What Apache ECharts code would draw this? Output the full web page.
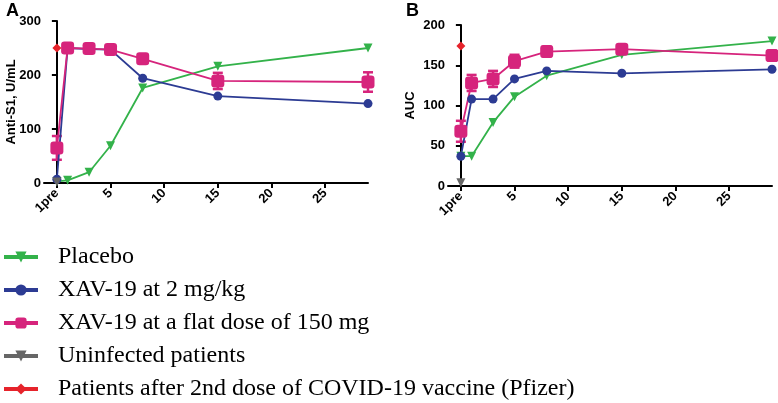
<!DOCTYPE html>
<html>
<head>
<meta charset="utf-8">
<script src="https://cdn.jsdelivr.net/npm/echarts@6/dist/echarts.min.js"></script>
<style>
  html, body { margin: 0; padding: 0; background: #fff; }
  #chart { width: 778px; height: 403px; }
</style>
</head>
<body>
<div id="chart"></div>
<script>
  // days after infusion, 0 = pre
  const days = [0, 1, 3, 5, 8, 15, 29]
  const xTicks = [0, 5, 10, 15, 20, 25]

  // panel A: anti-S1 U/mL
  const placeboA = [3, 5, 20, 69, 176, 216, 250]
  const xav2A = [7, 250, 248, 247, 194, 161, 147]
  const xav150A = [65, 250, 249, 247, 230, 189, 187]
  const xav150ErrA = [22, 3, 3, 3, 6, 15, 18]
  const uninfectedA = [2]
  const vaccineA = [250]

  // panel B: AUC
  const placeboB = [37, 37, 79, 111, 137, 163, 180]
  const xav2B = [37, 108, 108, 133, 143, 140, 145]
  const xav150B = [68, 128, 133, 155, 167, 170, 162]
  const xav150ErrB = [13, 10, 10, 8, 6, 5, 6]
  const uninfectedB = [4]
  const vaccineB = [174]

  const names = ['Placebo', 'XAV-19 at 2 mg/kg', 'XAV-19 at a flat dose of 150 mg',
    'Uninfected patients', 'Patients after 2nd dose of COVID-19 vaccine (Pfizer)']
  const colors = ['#33b24a', '#2c3b93', '#d6247c', '#666666', '#e6232b']

  const chart = echarts.init(document.getElementById('chart'))

  function pairs (ys) {
    return ys.map((y, i) => [days[i], y])
  }

  function errData (ys, errs) {
    return ys.map((y, i) => [days[i], y - errs[i], y + errs[i]])
  }

  const axisFont = { color: '#000', fontFamily: 'Liberation Sans', fontWeight: 'bold', fontSize: 13 }

  function xAxis (idx) {
    return {
      gridIndex: idx,
      type: 'value',
      min: -1.2,
      max: 29,
      splitLine: { show: false },
      axisLine: { lineStyle: { color: '#000', width: 2 } },
      axisTick: { customValues: xTicks, length: 5, lineStyle: { color: '#000', width: 2 } },
      axisLabel: Object.assign({
        customValues: xTicks,
        rotate: 45,
        margin: 8,
        formatter: v => (v === 0 ? '1pre' : String(v))
      }, axisFont)
    }
  }

  function yAxis (idx, max, interval, name) {
    return {
      gridIndex: idx,
      type: 'value',
      min: 0,
      max: max,
      interval: interval,
      name: name,
      nameLocation: 'middle',
      nameGap: idx === 0 ? 26 : 31,
      nameMoveOverlap: false,
      nameTextStyle: axisFont,
      splitLine: { show: false },
      axisLine: { show: true, lineStyle: { color: '#000', width: 2 } },
      axisTick: { show: true, length: 5, lineStyle: { color: '#000', width: 2 } },
      axisLabel: Object.assign({ margin: 3 }, axisFont)
    }
  }

  function lineSeries (idx, name, color, data, symbol, size, rotate) {
    return {
      type: 'line',
      name: name,
      xAxisIndex: idx,
      yAxisIndex: idx,
      data: pairs(data),
      symbol: symbol,
      symbolSize: size,
      symbolRotate: rotate || 0,
      showAllSymbol: true,
      lineStyle: { color: color, width: 1.8 },
      itemStyle: { color: color },
      emphasis: { disabled: true },
      z: 3
    }
  }

  function errSeries (idx, color, data) {
    return {
      type: 'custom',
      xAxisIndex: idx,
      yAxisIndex: idx,
      data: data,
      z: 2,
      renderItem: function (params, api) {
        const lo = api.coord([api.value(0), api.value(1)])
        const hi = api.coord([api.value(0), api.value(2)])
        const w = 5
        const style = { stroke: color, lineWidth: 2.5 }
        return {
          type: 'group',
          children: [
            { type: 'line', shape: { x1: lo[0], y1: lo[1], x2: hi[0], y2: hi[1] }, style: style },
            { type: 'line', shape: { x1: lo[0] - w, y1: lo[1], x2: lo[0] + w, y2: lo[1] }, style: style },
            { type: 'line', shape: { x1: hi[0] - w, y1: hi[1], x2: hi[0] + w, y2: hi[1] }, style: style }
          ]
        }
      }
    }
  }

  function panel (idx, pl, x2, x150, err, un, vac) {
    return [
      lineSeries(idx, names[0], colors[0], pl, 'triangle', 9, 180),
      lineSeries(idx, names[1], colors[1], x2, 'circle', 9),
      errSeries(idx, colors[2], errData(x150, err)),
      lineSeries(idx, names[2], colors[2], x150, 'roundRect', 13),
      lineSeries(idx, names[3], colors[3], un, 'triangle', 9, 180),
      lineSeries(idx, names[4], colors[4], vac, 'diamond', 9)
    ]
  }

  chart.setOption({
    backgroundColor: '#fff',
    animation: false,
    title: [
      { text: 'A', left: 1, top: -3, textStyle: { fontFamily: 'Liberation Sans', fontWeight: 'bold', fontSize: 18, color: '#000' } },
      { text: 'B', left: 401, top: -3, textStyle: { fontFamily: 'Liberation Sans', fontWeight: 'bold', fontSize: 18, color: '#000' } }
    ],
    grid: [
      { left: 44, top: 21, width: 324, height: 162 },
      { left: 448, top: 25, width: 324, height: 161 }
    ],
    xAxis: [xAxis(0), xAxis(1)],
    yAxis: [yAxis(0, 300, 100, 'Anti-S1, U/mL'), yAxis(1, 200, 50, 'AUC')],
    legend: {
      data: names,
      orient: 'vertical',
      left: 2,
      top: 245,
      height: 200,
      padding: 0,
      itemWidth: 34,
      itemHeight: 14,
      itemGap: 9,
      selectedMode: false,
      lineStyle: { width: 4 },
      textStyle: { fontFamily: 'Liberation Serif', fontSize: 24, color: '#000', lineHeight: 24, padding: [0, 0, 0, 15] }
    },
    series: panel(0, placeboA, xav2A, xav150A, xav150ErrA, uninfectedA, vaccineA)
      .concat(panel(1, placeboB, xav2B, xav150B, xav150ErrB, uninfectedB, vaccineB))
  })
</script>
</body>
</html>
